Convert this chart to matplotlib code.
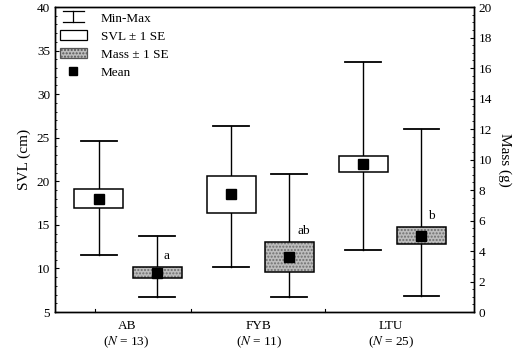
import matplotlib
matplotlib.use("Agg")
import matplotlib.pyplot as plt
from matplotlib.patches import Rectangle
from matplotlib.lines import Line2D
from matplotlib.legend_handler import HandlerBase
from matplotlib.ticker import MultipleLocator

plt.rcParams['font.family'] = ['Liberation Serif', 'DejaVu Serif']
plt.rcParams['mathtext.fontset'] = 'stix'

groups = ['AB', 'FYB', 'LTU']
n_sizes = [13, 11, 25]

# SVL (cm)
svl_min = [11.5, 10.2, 12.1]
svl_lo = [16.9, 16.4, 21.1]
svl_mean = [18.0, 18.5, 22.0]
svl_hi = [19.1, 20.6, 22.9]
svl_max = [24.6, 26.3, 33.7]

# Mass (g)
mass_min = [1.0, 1.0, 1.05]
mass_lo = [2.23, 2.62, 4.46]
mass_mean = [2.56, 3.61, 4.98]
mass_hi = [2.95, 4.59, 5.57]
mass_max = [4.98, 9.05, 12.0]
mass_letters = ['a', 'ab', 'b']

fig = plt.figure(figsize=(5.23, 3.53), dpi=100)
ax = fig.add_axes([0.105, 0.116, 0.801, 0.864])
ax2 = ax.twinx()

box_w = 0.37
cap_w = 0.27
svl_off = -0.21
mass_off = 0.23


def draw_box(a, x, vmin, lo, mean, hi, vmax, shaded):
    a.plot([x, x], [vmin, lo], color='black', lw=1.0, zorder=2)
    a.plot([x, x], [hi, vmax], color='black', lw=1.0, zorder=2)
    a.plot([x - cap_w / 2, x + cap_w / 2], [vmin, vmin], color='black', lw=1.3, zorder=2)
    a.plot([x - cap_w / 2, x + cap_w / 2], [vmax, vmax], color='black', lw=1.3, zorder=2)
    if shaded:
        a.add_patch(Rectangle((x - box_w / 2, lo), box_w, hi - lo, facecolor='#bdbdbd',
                              edgecolor='#6e6e6e', hatch='.....', lw=0, zorder=3))
    else:
        a.add_patch(Rectangle((x - box_w / 2, lo), box_w, hi - lo, facecolor='white',
                              lw=0, zorder=3))
    a.add_patch(Rectangle((x - box_w / 2, lo), box_w, hi - lo, fill=False,
                          edgecolor='black', lw=1.1, zorder=4))
    a.plot(x, mean, marker='s', color='black', ms=6.5, zorder=5)


for i in range(len(groups)):
    gx = i + 1
    draw_box(ax, gx + svl_off, svl_min[i], svl_lo[i], svl_mean[i], svl_hi[i], svl_max[i], False)
    draw_box(ax2, gx + mass_off, mass_min[i], mass_lo[i], mass_mean[i], mass_hi[i], mass_max[i], True)

letter_dx = [0.07, 0.11, 0.075]
for i, lab in enumerate(mass_letters):
    ax2.text(i + 1 + mass_off + letter_dx[i], mass_hi[i] + 0.35, lab, ha='center',
             va='bottom', fontsize=9.5)

ax.set_xlim(0.457, 3.626)
ax.set_ylim(5, 40)
ax2.set_ylim(0, 20)

ax.set_xticks([1, 2, 3])
ax.set_xticklabels(['%s\n($N$ = %d)' % (g, n) for g, n in zip(groups, n_sizes)], fontsize=9.5)
ax.tick_params(axis='x', length=0, pad=6)
for xb in [0.76, 1.49, 2.50]:
    ax.plot([xb, xb], [5, 5.35], color='black', lw=0.8, clip_on=False)

ax.yaxis.set_major_locator(MultipleLocator(5))
ax.yaxis.set_minor_locator(MultipleLocator(1))
ax.tick_params(axis='y', direction='in', labelsize=9.5, length=3)
ax.tick_params(axis='y', which='minor', direction='in', length=1.5)
ax2.yaxis.set_major_locator(MultipleLocator(2))
ax2.yaxis.set_minor_locator(MultipleLocator(0.5))
ax2.tick_params(axis='y', direction='in', labelsize=9.5, length=3)
ax2.tick_params(axis='y', which='minor', direction='in', length=1.5)

ax.set_ylabel('SVL (cm)', fontsize=11)
ax2.set_ylabel('Mass (g)', fontsize=11, rotation=270, labelpad=14)

for a in (ax, ax2):
    for s in a.spines.values():
        s.set_linewidth(1.0)


class MinMaxHandler(HandlerBase):
    def create_artists(self, legend, orig, xd, yd, w, h, fs, trans):
        cx = xd + w / 2
        l1 = Line2D([xd + w * 0.1, xd + w * 0.9], [yd + h, yd + h], color='black', lw=0.9, transform=trans)
        l2 = Line2D([xd + w * 0.1, xd + w * 0.9], [yd, yd], color='black', lw=0.9, transform=trans)
        l3 = Line2D([cx, cx], [yd, yd + h], color='black', lw=0.9, transform=trans)
        return [l1, l2, l3]


h_minmax = Line2D([], [], color='black')
h_svl = Rectangle((0, 0), 1, 1, facecolor='white', edgecolor='black', lw=0.9)
h_mass = Rectangle((0, 0), 1, 1, facecolor='#bdbdbd', edgecolor='#555555', hatch='.....', lw=0.9)
h_mean = Line2D([], [], color='black', marker='s', ms=5.5, linestyle='None')
leg = ax.legend([h_minmax, h_svl, h_mass, h_mean],
                ['Min-Max', 'SVL \u00b1 1 SE', 'Mass \u00b1 1 SE', 'Mean'],
                handler_map={h_minmax: MinMaxHandler()},
                loc='upper left', bbox_to_anchor=(0.0, 1.0), frameon=False, fontsize=9.5,
                handlelength=2.0, handleheight=0.8, labelspacing=0.4, handletextpad=1.1,
                borderaxespad=0.0)

fig.savefig('out.png', dpi=100)
